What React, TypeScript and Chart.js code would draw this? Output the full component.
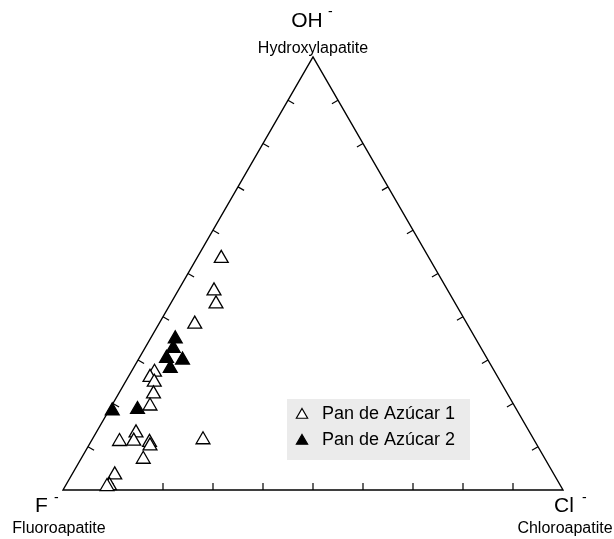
import React, { useEffect, useRef } from 'react';
import { Chart, registerables } from 'chart.js';

Chart.register(...registerables);

// Apex labels
const apexIons = ['OH', 'F', 'Cl'];
const apexMinerals = ['Hydroxylapatite', 'Fluoroapatite', 'Chloroapatite'];
const seriesNames = ['Pan de Azúcar 1', 'Pan de Azúcar 2'];

// Compositions (% of apex), F = 100 - OH - Cl
const pan1OH = [53.5, 46.0, 43.0, 38.3, 27.2, 26.0, 24.9, 22.2, 19.4, 13.2, 11.3, 11.2, 11.0, 10.2, 11.6, 7.1, 3.5, 1.0, 0.8];
const pan1Cl = [4.9, 7.2, 9.1, 7.2, 4.7, 4.4, 5.8, 7.0, 7.7, 8.0, 8.5, 5.7, 11.8, 12.3, 22.2, 12.5, 8.6, 8.8, 8.4];
const pan2OH = [34.9, 32.7, 30.4, 30.0, 28.1, 18.3, 18.6];
const pan2Cl = [5.0, 5.7, 5.5, 8.9, 7.4, 0.7, 5.6];

// Tick marks along each side (% along the side)
const sideTicks = [10, 20, 30, 40, 50, 60, 70, 80, 90];

const H = Math.sqrt(3) / 2;
const toXY = (oh: number, cl: number) => ({ x: cl + oh / 2, y: oh * H });

const FONT = '"Liberation Sans", Arial, Helvetica, sans-serif';

const ternaryPlugin = {
  id: 'ternary',
  beforeDatasetsDraw(chart: any) {
    const { ctx, scales } = chart;
    const xs = scales.x, ys = scales.y;
    const px = (p: { x: number; y: number }) => [xs.getPixelForValue(p.x), ys.getPixelForValue(p.y)];
    const vF = px(toXY(0, 0));
    const vCl = px(toXY(0, 100));
    const vOH = px(toXY(100, 0));
    ctx.save();
    ctx.strokeStyle = '#000';
    ctx.lineWidth = 1.4;
    ctx.beginPath();
    ctx.moveTo(vF[0], vF[1]);
    ctx.lineTo(vCl[0], vCl[1]);
    ctx.lineTo(vOH[0], vOH[1]);
    ctx.closePath();
    ctx.stroke();
    const edges = [[vF, vCl], [vCl, vOH], [vOH, vF]];
    const len = 7;
    ctx.lineWidth = 1.2;
    for (const [a, b] of edges) {
      const dx = b[0] - a[0], dy = b[1] - a[1];
      const L = Math.hypot(dx, dy);
      const nx = dy / L, ny = -dx / L;
      for (const t of sideTicks) {
        const sx = a[0] + dx * t / 100, sy = a[1] + dy * t / 100;
        ctx.beginPath();
        ctx.moveTo(sx, sy);
        ctx.lineTo(sx + nx * len, sy + ny * len);
        ctx.stroke();
      }
    }
    ctx.restore();
  },
  afterDraw(chart: any) {
    const { ctx, scales } = chart;
    const xs = scales.x, ys = scales.y;
    const px = (p: { x: number; y: number }) => [xs.getPixelForValue(p.x), ys.getPixelForValue(p.y)];
    const vF = px(toXY(0, 0));
    const vCl = px(toXY(0, 100));
    const vOH = px(toXY(100, 0));
    ctx.save();
    ctx.fillStyle = '#000';
    ctx.textBaseline = 'alphabetic';
    // OH apex
    ctx.font = `21px ${FONT}`;
    ctx.textAlign = 'center';
    ctx.fillText(apexIons[0], vOH[0] - 6, vOH[1] - 30);
    ctx.font = `14px ${FONT}`;
    ctx.textAlign = 'left';
    ctx.fillText('-', vOH[0] + 15, vOH[1] - 41);
    ctx.font = `16px ${FONT}`;
    ctx.textAlign = 'center';
    ctx.fillText(apexMinerals[0], vOH[0], vOH[1] - 4);
    // F apex
    ctx.font = `21px ${FONT}`;
    ctx.textAlign = 'left';
    ctx.fillText(apexIons[1], vF[0] - 28, vF[1] + 22);
    ctx.font = `14px ${FONT}`;
    ctx.fillText('-', vF[0] - 9, vF[1] + 12);
    ctx.font = `16px ${FONT}`;
    ctx.textAlign = 'center';
    ctx.fillText(apexMinerals[1], vF[0] - 4, vF[1] + 43);
    // Cl apex
    ctx.font = `21px ${FONT}`;
    ctx.textAlign = 'left';
    ctx.fillText(apexIons[2], vCl[0] - 9, vCl[1] + 22);
    ctx.font = `14px ${FONT}`;
    ctx.fillText('-', vCl[0] + 19, vCl[1] + 12);
    ctx.font = `16px ${FONT}`;
    ctx.textAlign = 'center';
    ctx.fillText(apexMinerals[2], vCl[0] + 2, vCl[1] + 43);

    // Legend
    const bx = 287, by = 399, bw = 183, bh = 61;
    ctx.fillStyle = '#ebebeb';
    ctx.fillRect(bx, by, bw, bh);
    const rows = [by + 15, by + 41];
    const fills = ['#ffffff', '#000000'];
    for (let i = 0; i < 2; i++) {
      const cx = bx + 15, cy = rows[i] + 1;
      const r = 6.5;
      ctx.beginPath();
      ctx.moveTo(cx, cy - r);
      ctx.lineTo(cx + r * 0.866, cy + r / 2);
      ctx.lineTo(cx - r * 0.866, cy + r / 2);
      ctx.closePath();
      ctx.fillStyle = fills[i];
      ctx.fill();
      ctx.strokeStyle = '#000';
      ctx.lineWidth = 1.2;
      ctx.stroke();
      ctx.fillStyle = '#000';
      ctx.font = `18px ${FONT}`;
      ctx.textAlign = 'left';
      ctx.textBaseline = 'middle';
      ctx.fillText(seriesNames[i], bx + 35, rows[i]);
    }
    ctx.restore();
  },
};

export default function App() {
  const ref = useRef<HTMLCanvasElement | null>(null);
  useEffect(() => {
    if (!ref.current) return;
    const d1 = pan1OH.map((oh, i) => toXY(oh, pan1Cl[i]));
    const d2 = pan2OH.map((oh, i) => toXY(oh, pan2Cl[i]));
    const chart = new Chart(ref.current, {
      type: 'scatter',
      data: {
        datasets: [
          {
            label: seriesNames[0],
            data: d1,
            pointStyle: 'triangle',
            pointRadius: 8,
            backgroundColor: '#ffffff',
            borderColor: '#000000',
            borderWidth: 1.3,
          },
          {
            label: seriesNames[1],
            data: d2,
            pointStyle: 'triangle',
            pointRadius: 8,
            backgroundColor: '#000000',
            borderColor: '#000000',
            borderWidth: 1.3,
          },
        ],
      },
      options: {
        responsive: false,
        animation: false,
        devicePixelRatio: 1,
        layout: { padding: 0, autoPadding: false },
        scales: {
          x: { type: 'linear', min: -12.6, max: 110.2, display: false },
          y: { type: 'linear', min: -9.8, max: 98, display: false },
        },
        plugins: {
          legend: { display: false },
          tooltip: { enabled: false },
        },
      },
      plugins: [ternaryPlugin],
    });
    return () => chart.destroy();
  }, []);
  return (
    <div style={{ position: 'absolute', left: 0, top: 0, width: 614, height: 539, background: '#fff' }}>
      <canvas ref={ref} width={614} height={539} />
    </div>
  );
}
